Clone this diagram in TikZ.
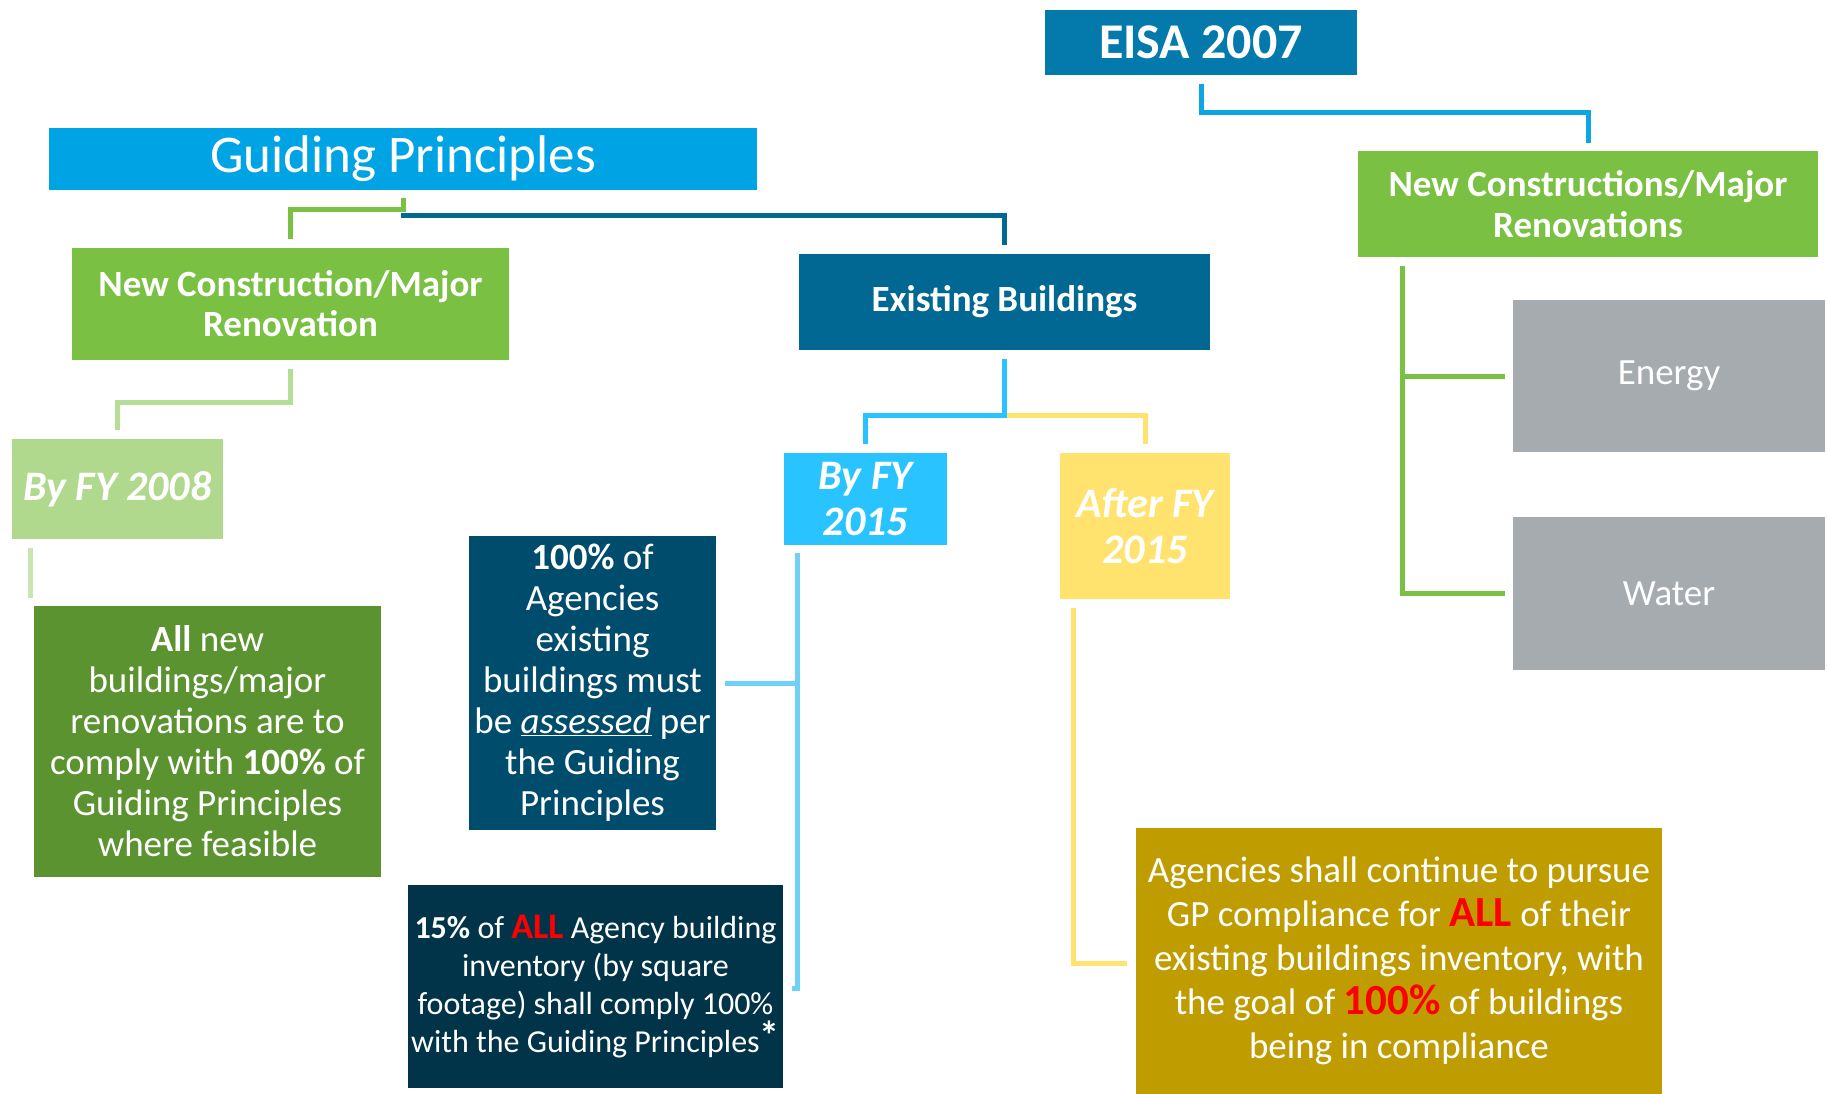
\documentclass[tikz,border=0pt]{standalone}
\usepackage{fontspec}
\setmainfont{Carlito}
\usepackage{tikz}
\usetikzlibrary{calc}

\definecolor{eisablue}{HTML}{0479AB}
\definecolor{eisaline}{HTML}{0DA6E2}
\definecolor{gpblue}{HTML}{00A4E4}
\definecolor{ncgreen}{HTML}{7AC143}
\definecolor{ebblue}{HTML}{006892}
\definecolor{skyblue}{HTML}{29C4FF}
\definecolor{paleblue}{HTML}{6FD1F8}
\definecolor{paleyellow}{HTML}{FFE36E}
\definecolor{palegreen}{HTML}{B0D98E}
\definecolor{lightgreenline}{HTML}{B5DD95}
\definecolor{stubgreen}{HTML}{C9E5B0}
\definecolor{darkgreen}{HTML}{5C9331}
\definecolor{navy}{HTML}{004C6C}
\definecolor{darknavy}{HTML}{023449}
\definecolor{gold}{HTML}{BF9C00}
\definecolor{grey}{HTML}{A6ABB0}
\definecolor{alertred}{HTML}{FF0000}

\newcommand{\sz}[2]{\fontsize{#1}{#2}\selectfont}

\tikzset{
	blk/.style={inner sep=0pt, outer sep=0pt, text=white, align=center},
	link/.style={line width=5pt}
}

\begin{document}
\begin{tikzpicture}[x=1pt,y=-1pt]
%%%%%%%%%%%%%%%%%%
\useasboundingbox (0,0) rectangle (1828,1094);

%EISA side
	\node[blk, fill=eisablue, minimum width=312, minimum height=65, font=\sz{50}{55}\bfseries] (eisa) at (1201,42.5) {EISA 2007};
	\node[blk, fill=ncgreen, minimum width=460, minimum height=106, font=\sz{37}{41}\bfseries] (eisanc) at (1588,204) {New Constructions/Major\\Renovations};
	\node[blk, fill=grey, minimum width=312, minimum height=152, font=\sz{37}{41}] (energy) at (1669,376) {Energy};
	\node[blk, fill=grey, minimum width=312, minimum height=153, font=\sz{37}{41}] (water) at (1669,593.5) {Water};

%Guiding Principles side
	\node[blk, fill=gpblue, minimum width=708, minimum height=62, font=\sz{53}{58}] (gp) at (403,159) {Guiding Principles};
	\node[blk, fill=ncgreen, minimum width=437, minimum height=112, font=\sz{37}{40}\bfseries] (gpnc) at (290.5,304) {New Construction/Major\\Renovation};
	\node[blk, fill=ebblue, minimum width=411, minimum height=96, font=\sz{37}{41}\bfseries] (eb) at (1004.5,302) {Existing Buildings};

% Deadlines
	\node[blk, fill=palegreen, minimum width=211, minimum height=100, font=\sz{42}{46}\bfseries\itshape] (fy2008) at (117.5,489) {By FY 2008};
	\node[blk, fill=skyblue, minimum width=163, minimum height=92, font=\sz{42}{46}\bfseries\itshape] (fy2015) at (865.5,499) {By FY\\2015};
	\node[blk, fill=paleyellow, minimum width=170, minimum height=146, font=\sz{42}{46}\bfseries\itshape] (after) at (1145,526) {After FY\\2015};

% Requirements
	\node[blk, fill=darkgreen, minimum width=347, minimum height=271, font=\sz{37}{41}] (allnew) at (207.5,741.5) {\textbf{All} new\\buildings/major\\renovations are to\\comply with \textbf{100\%} of\\Guiding Principles\\where feasible};
	\node[blk, fill=navy, minimum width=247, minimum height=294, font=\sz{37}{41}] (assess) at (592.5,683) {\textbf{100\%} of\\Agencies\\existing\\buildings must\\be \underline{\textit{assessed}} per\\the Guiding\\Principles};
	\node[blk, fill=darknavy, minimum width=375, minimum height=203, font=\sz{32}{38}] (fifteen) at (595.5,986.5) {\textbf{15\%} of {\color{alertred}\sz{36}{38}\bfseries ALL} Agency building\\inventory (by square\\footage) shall comply 100\%\\with the Guiding Principles\raisebox{0.08em}{\sz{40}{38}\bfseries *}};
	\node[blk, fill=gold, minimum width=526, minimum height=266, font=\sz{37}{44}] (pursue) at (1399,961) {Agencies shall continue to pursue\\GP compliance for {\color{alertred}\sz{43}{44}\bfseries ALL} of their\\existing buildings inventory, with\\the goal of {\color{alertred}\sz{43}{44}\bfseries 100\%} of buildings\\being in compliance};

%Connectors
	\draw[link, eisaline] ($(eisa.south)+(0,9)$) -- ++(0,29) -| ($(eisanc.north)+(0,-8)$);
	\draw[link, ncgreen] ($(eisanc.south west)+(44,9)$) |- ($(energy.west)+(-8,0)$);
	\draw[link, ncgreen] ($(eisanc.south west)+(44,9)$) |- ($(water.west)+(-8,0)$);

	\draw[link, ebblue] ($(gp.south)+(0,23)$) -- ++(0,3) -| ($(eb.north)+(0,-9)$);
	\draw[link, ncgreen] ($(gp.south)+(0,8)$) -- ++(0,12) -| ($(gpnc.north)+(0,-9)$);
	\draw[link, lightgreenline] ($(gpnc.south)+(0,9)$) -- ++(0,33) -| ($(fy2008.north)+(0,-9)$);
	\draw[link, stubgreen] ($(fy2008.south west)+(18,9)$) -- ($(allnew.north west)+(-4,-8)$);

	\draw[link, paleyellow] ($(eb.south)+(0,65)$) -| ($(after.north)+(0,-9)$);
	\draw[link, skyblue] ($(eb.south)+(0,9)$) -- ++(0,56) -| ($(fy2015.north)+(0,-9)$);

	\draw[link, paleblue] ($(fy2015.south west)+(13,8)$) coordinate (bt) |- ($(fifteen.east)+(9,1.5)$);
	\draw[link, paleblue] (bt |- assess.east) -- ($(assess.east)+(9,0)$);
	\draw[link, paleyellow] ($(after.south west)+(13,9)$) |- ($(pursue.west)+(-9,2)$);

\end{tikzpicture}
\end{document}
